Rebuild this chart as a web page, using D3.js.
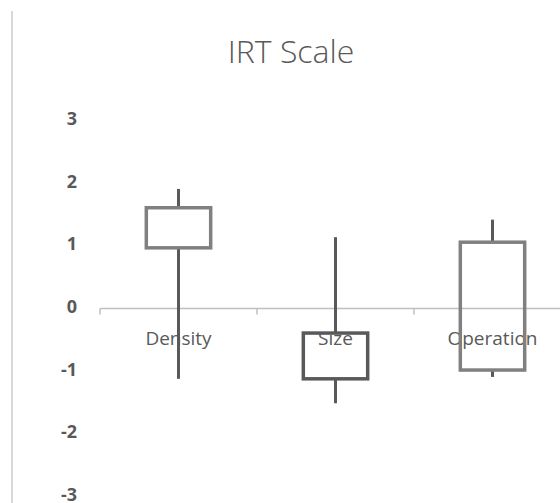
<!DOCTYPE html>
<meta charset="utf-8">
<style>
body { margin: 0; background: #fff; }
text { font-family: "Open Sans", "Liberation Sans", sans-serif; fill: #595959; }
</style>
<body>
<script src="https://d3js.org/d3.v7.min.js"></script>
<script>

// data
var categories = ["Density", "Size", "Operation"];
var highs  = [1.90, 1.13, 1.41];
var lows   = [-1.13, -1.52, -1.10];
var opens  = [0.96, -0.40, -0.99];
var closes = [1.60, -1.13, 1.05];
var yTicks = [-3, -2, -1, 0, 1, 2, 3];

var width = 560, height = 503;

var svg = d3.select("body").append("svg")
    .attr("width", width)
    .attr("height", height);

// chart frame edge on the left
svg.append("line")
    .attr("x1", 12).attr("x2", 12)
    .attr("y1", 11).attr("y2", height)
    .attr("stroke", "#d9d9d9")
    .attr("stroke-width", 2);

// title
svg.append("text")
    .attr("x", 291).attr("y", 63)
    .attr("text-anchor", "middle")
    .style("font-size", "32px")
    .style("font-weight", 300)
    .text("IRT Scale");

// scales
var x = d3.scaleBand().domain(categories).range([100, 571]).padding(0);
var y = d3.scaleLinear().domain([-3, 3]).range([496, 120]);

// y axis labels only (plain hyphen for negatives)
var yAxis = svg.append("g")
    .attr("transform", "translate(100,0)")
    .call(d3.axisLeft(y).tickValues(yTicks).tickSize(0).tickPadding(23)
      .tickFormat(function(d) { return String(d); }));
yAxis.select(".domain").remove();
yAxis.selectAll("text")
    .attr("dy", "0.25em")
    .style("font-family", "'Open Sans', sans-serif")
    .style("font-size", "18px")
    .style("font-weight", "bold")
    .attr("fill", "#595959");

// x axis line and boundary ticks
var y0 = Math.round(y(0)) + 0.5;
svg.append("line")
    .attr("x1", x.range()[0]).attr("x2", x.range()[1])
    .attr("y1", y0).attr("y2", y0)
    .attr("stroke", "#bfbfbf").attr("stroke-width", 1.5);
var bounds = categories.map(function(c) { return x(c); }).concat([x.range()[1]]);
svg.selectAll(".xtick")
    .data(bounds)
  .enter().append("line")
    .attr("class", "xtick")
    .attr("x1", function(d) { return d; }).attr("x2", function(d) { return d; })
    .attr("y1", y0).attr("y2", y0 + 6)
    .attr("stroke", "#bfbfbf").attr("stroke-width", 1.5);

// category labels
svg.selectAll(".xlabel")
    .data(categories)
  .enter().append("text")
    .attr("class", "xlabel")
    .attr("x", function(d) { return x(d) + x.bandwidth() / 2; })
    .attr("y", 345)
    .attr("text-anchor", "middle")
    .style("font-size", "19px")
    .text(function(d) { return d; });

var data = categories.map(function(c, i) {
  return {cat: c, high: highs[i], low: lows[i], open: opens[i], close: closes[i]};
});

var boxW = x.bandwidth() * 0.41;

var g = svg.selectAll(".stock")
    .data(data)
  .enter().append("g")
    .attr("class", "stock")
    .attr("transform", function(d) { return "translate(" + (x(d.cat) + x.bandwidth() / 2) + ",0)"; });

// high-low lines (hidden behind the box)
g.append("line")
    .attr("y1", function(d) { return y(d.high); })
    .attr("y2", function(d) { return y(Math.max(d.open, d.close)); })
    .attr("stroke", "#595959").attr("stroke-width", 3);
g.append("line")
    .attr("y1", function(d) { return y(Math.min(d.open, d.close)); })
    .attr("y2", function(d) { return y(d.low); })
    .attr("stroke", "#595959").attr("stroke-width", 3);

// up/down bars
g.append("rect")
    .attr("x", -boxW / 2)
    .attr("width", boxW)
    .attr("y", function(d) { return y(Math.max(d.open, d.close)); })
    .attr("height", function(d) { return Math.abs(y(d.open) - y(d.close)); })
    .attr("fill", "none")
    .attr("stroke", function(d) { return d.close >= d.open ? "#808080" : "#595959"; })
    .attr("stroke-width", 3.5);

</script>
</body>
